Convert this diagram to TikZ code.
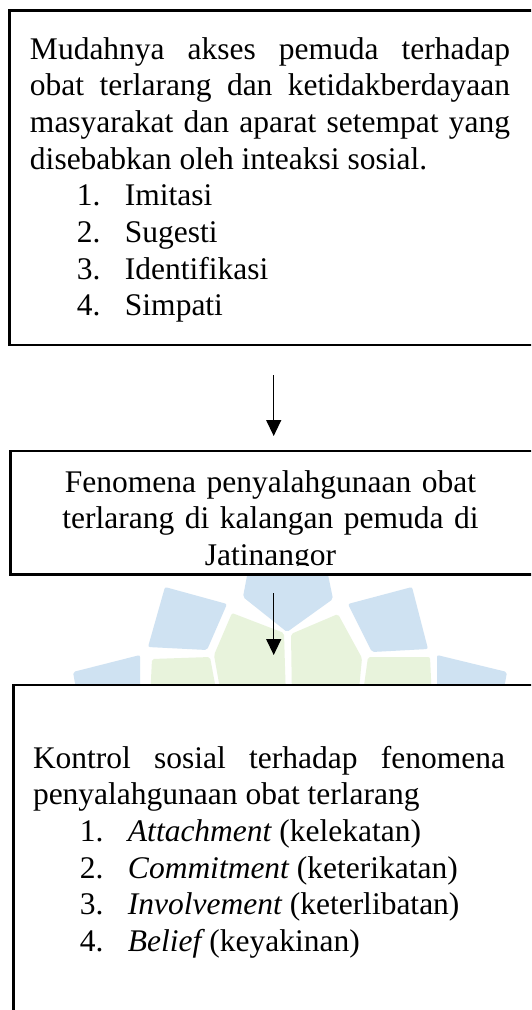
\documentclass[tikz,border=0pt]{standalone}
\usepackage{fontspec}
\setmainfont{Liberation Serif}
\usetikzlibrary{arrows.meta,calc}
\definecolor{wmblue}{RGB}{207,226,242}
\definecolor{wmgreen}{RGB}{232,243,220}
\newcommand\listline[2]{\par\hspace*{47pt}\makebox[48pt][l]{#1}#2}
\begin{document}
\begin{tikzpicture}[x=1pt,y=-1pt,
  box/.style={draw,line width=2.6pt,fill=white,inner sep=0pt,outer sep=0pt,anchor=north west},
  body/.style={font=\fontsize{31.5}{36.7}\selectfont,inner sep=0pt,outer sep=0pt,anchor=base west,align=justify},
  flow/.style={line width=1.3pt,-{Triangle[length=16pt,width=15pt]}},
  wmb/.style={fill=wmblue,draw=none,rounded corners=2pt},
  wmg/.style={fill=wmgreen,draw=none,rounded corners=2pt}]
\clip (0,0) rectangle (531,1010);
\fill[white] (0,0) rectangle (531,1010);
% watermark
\fill[wmb] (250,560) -- (243,597) -- (287,632) -- (333,599) -- (325,560) -- cycle;
\fill[wmb] (165,587) -- (227,604) -- (207,650) -- (148,647) -- cycle;
\fill[wmb] (348,604) -- (412,587) -- (428,649) -- (372,652) -- cycle;
\fill[wmb] (73,672) -- (140,655) -- (140,700) -- (78,700) -- cycle;
\fill[wmb] (437,655) -- (507,672) -- (502,700) -- (437,700) -- cycle;
\fill[wmg] (232,613) -- (284,633) -- (286,700) -- (222,700) -- (214,655) -- cycle;
\fill[wmg] (291,634) -- (338,614) -- (362,658) -- (358,700) -- (292,700) -- cycle;
\fill[wmg] (152,659) -- (210,657) -- (218,700) -- (150,700) -- cycle;
\fill[wmg] (368,657) -- (430,657) -- (432,700) -- (362,700) -- cycle;
% boxes
\node[box,minimum width=560pt,minimum height=334.7pt] (b1) at (9.7,10.3) {};
\node[box,minimum width=560pt,minimum height=123.3pt] (b2) at (10.7,451) {};
\node[box,minimum width=560pt,minimum height=400pt] (b3) at (13.3,685) {};
% texts
\node[body,text width=480pt] (t1) at ($(b1.north west)+(20.3,48.7)$) {Mudahnya akses pemuda terhadap\linebreak obat terlarang dan ketidakberdayaan\linebreak masyarakat dan aparat setempat yang\linebreak disebabkan oleh inteaksi sosial.%
\listline{1.}{Imitasi}\listline{2.}{Sugesti}\listline{3.}{Identifikasi}\listline{4.}{Simpati}};
\begin{scope}
\clip (0,0) rectangle (531,565);
\node[body,text width=440pt,align=center,anchor=base] (t2) at (270.5,492) {Fenomena penyalahgunaan obat\\ terlarang di kalangan pemuda di\\ Jatinangor};
\end{scope}
\node[body,text width=472pt] (t3) at ($(b3.north west)+(19.7,83)$) {Kontrol sosial terhadap fenomena\linebreak penyalahgunaan obat terlarang%
\listline{1.}{{\itshape Attachment} (kelekatan)}\listline{2.}{{\itshape Commitment} (keterikatan)}\listline{3.}{{\itshape Involvement} (keterlibatan)}\listline{4.}{{\itshape Belief} (keyakinan)}};
% connectors
\coordinate (ax) at (273.7,0);
\draw[flow,shorten <=30pt,shorten >=15pt] (b1.south -| ax) -- (b2.north -| ax);
\draw[flow,shorten <=19pt,shorten >=30pt] (b2.south -| ax) -- (b3.north -| ax);
\end{tikzpicture}
\end{document}
